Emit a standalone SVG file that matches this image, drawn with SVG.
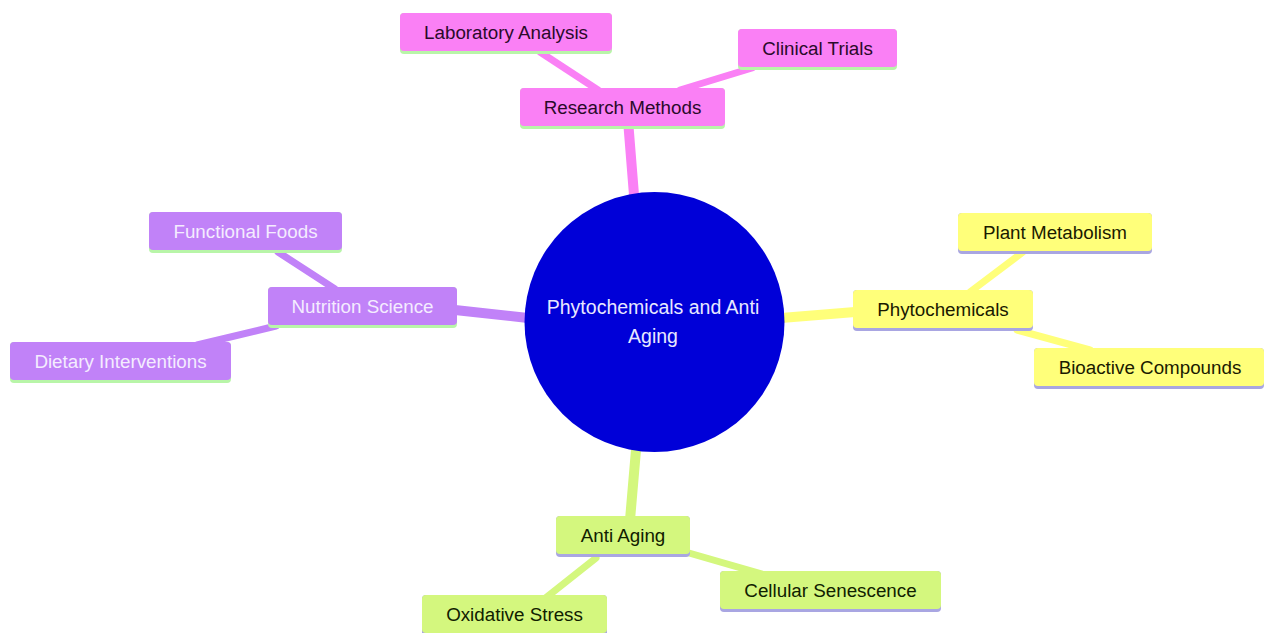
<svg xmlns="http://www.w3.org/2000/svg" width="1264" height="633" viewBox="0 0 1264 633">
<style>
text{font-family:"Liberation Sans",Arial,sans-serif;font-size:18.8px;text-anchor:middle;dominant-baseline:central}
.pk rect.b{fill:#fa80f5}.pk text{fill:#2a0a2a}
.pu rect.b{fill:#c182f8}.pu text{fill:#f4ecff}
.ye rect.b{fill:#ffff7a}.ye text{fill:#1a1a00}
.gr rect.b{fill:#d4f77e}.gr text{fill:#102000}
.ul1{fill:#b8f5a8}.ul2{fill:#a9a6e2}
.e{fill:none;stroke-linecap:round}
</style>
<rect width="1264" height="633" fill="#ffffff"/>
<g id="connectors">
<line class="e" x1="634" y1="195" x2="628" y2="120" stroke="#fa80f5" stroke-width="10"/>
<line class="e" x1="528" y1="318" x2="455" y2="310" stroke="#c182f8" stroke-width="10"/>
<line class="e" x1="781" y1="318" x2="855" y2="312" stroke="#ffff7a" stroke-width="10"/>
<line class="e" x1="636" y1="450" x2="630" y2="520" stroke="#d4f77e" stroke-width="10"/>
<line class="e" x1="540" y1="52" x2="598" y2="90" stroke="#fa80f5" stroke-width="7"/>
<line class="e" x1="752" y1="68" x2="680" y2="90" stroke="#fa80f5" stroke-width="7"/>
<line class="e" x1="278" y1="252" x2="335" y2="289" stroke="#c182f8" stroke-width="7"/>
<line class="e" x1="276" y1="326" x2="197" y2="345" stroke="#c182f8" stroke-width="7"/>
<line class="e" x1="1023" y1="252" x2="970" y2="292" stroke="#ffff7a" stroke-width="7"/>
<line class="e" x1="1017" y1="330" x2="1090" y2="350" stroke="#ffff7a" stroke-width="7"/>
<line class="e" x1="596" y1="558" x2="543" y2="600" stroke="#d4f77e" stroke-width="7"/>
<line class="e" x1="689" y1="553" x2="765" y2="575" stroke="#d4f77e" stroke-width="7"/>
</g>
<g id="root">
<circle cx="654.5" cy="322" r="130" fill="#0000d8"/>
<text x="653" y="307" fill="#e8e8ff" style="font-size:19.5px">Phytochemicals and Anti</text>
<text x="653" y="336" fill="#e8e8ff" style="font-size:19.5px">Aging</text>
</g>
<g id="research-methods" class="pk"><rect class="ul1" x="520" y="88" width="205" height="41" rx="4"/><rect class="b" x="520" y="88" width="205" height="38" rx="4"/><text x="622.5" y="107">Research Methods</text></g>
<g id="laboratory-analysis" class="pk"><rect class="ul1" x="400" y="13" width="212" height="41" rx="4"/><rect class="b" x="400" y="13" width="212" height="38" rx="4"/><text x="506" y="32">Laboratory Analysis</text></g>
<g id="clinical-trials" class="pk"><rect class="ul1" x="738" y="29" width="159" height="41" rx="4"/><rect class="b" x="738" y="29" width="159" height="38" rx="4"/><text x="817.5" y="48">Clinical Trials</text></g>
<g id="nutrition-science" class="pu"><rect class="ul1" x="268" y="287" width="189" height="41" rx="4"/><rect class="b" x="268" y="287" width="189" height="38" rx="4"/><text x="362.5" y="306">Nutrition Science</text></g>
<g id="functional-foods" class="pu"><rect class="ul1" x="149" y="212" width="193" height="41" rx="4"/><rect class="b" x="149" y="212" width="193" height="38" rx="4"/><text x="245.5" y="231">Functional Foods</text></g>
<g id="dietary-interventions" class="pu"><rect class="ul1" x="10" y="342" width="221" height="41" rx="4"/><rect class="b" x="10" y="342" width="221" height="38" rx="4"/><text x="120.5" y="361">Dietary Interventions</text></g>
<g id="phytochemicals" class="ye"><rect class="ul2" x="853" y="290" width="180" height="41" rx="4"/><rect class="b" x="853" y="290" width="180" height="38" rx="4"/><text x="943" y="309">Phytochemicals</text></g>
<g id="plant-metabolism" class="ye"><rect class="ul2" x="958" y="213" width="194" height="41" rx="4"/><rect class="b" x="958" y="213" width="194" height="38" rx="4"/><text x="1055" y="232">Plant Metabolism</text></g>
<g id="bioactive-compounds" class="ye"><rect class="ul2" x="1034" y="348" width="230" height="41" rx="4"/><rect class="b" x="1034" y="348" width="230" height="38" rx="4"/><text x="1150" y="367">Bioactive Compounds</text></g>
<g id="anti-aging" class="gr"><rect class="ul2" x="556" y="516" width="134" height="41" rx="4"/><rect class="b" x="556" y="516" width="134" height="38" rx="4"/><text x="623" y="535">Anti Aging</text></g>
<g id="cellular-senescence" class="gr"><rect class="ul2" x="720" y="571" width="221" height="41" rx="4"/><rect class="b" x="720" y="571" width="221" height="38" rx="4"/><text x="830.5" y="590">Cellular Senescence</text></g>
<g id="oxidative-stress" class="gr"><rect class="ul2" x="422" y="595" width="185" height="41" rx="4"/><rect class="b" x="422" y="595" width="185" height="38" rx="4"/><text x="514.5" y="614">Oxidative Stress</text></g>
</svg>
